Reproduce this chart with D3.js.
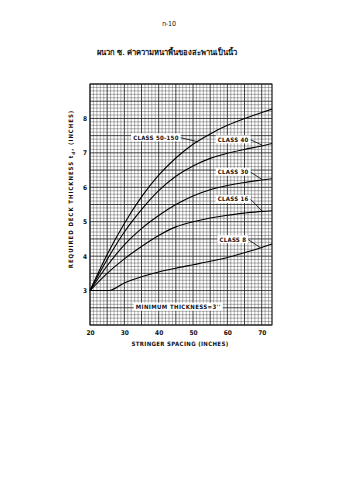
<!DOCTYPE html>
<html>
<head>
<meta charset="utf-8">
<script src="https://cdn.jsdelivr.net/npm/d3@7"></script>
<style>
  html, body { margin: 0; padding: 0; background: #fff; }
  svg { display: block; }
  text { font-family: "DejaVu Sans Condensed", "DejaVu Sans", sans-serif; fill: #111; }
</style>
</head>
<body>
<script>
// ---- data ----
const pageNumber = "ก-10";
const title = "ผนวก ซ. ค่าความหนาพื้นของสะพานเป็นนิ้ว";
const xLabel = "STRINGER SPACING (INCHES)";
const yLabel = "REQUIRED DECK THICKNESS  t";
const xTicks = [20, 30, 40, 50, 60, 70];
const yTicks = [3, 4, 5, 6, 7, 8];
const spacing = [20, 25, 30, 35, 40, 45, 50, 55, 60, 65, 70, 73];
const class50_150 = [3.0, 4.05, 4.95, 5.72, 6.35, 6.85, 7.25, 7.55, 7.8, 8.0, 8.17, 8.27];
const class40     = [3.0, 3.9, 4.7, 5.35, 5.9, 6.32, 6.62, 6.84, 6.99, 7.1, 7.2, 7.27];
const class30     = [3.0, 3.72, 4.33, 4.8, 5.18, 5.5, 5.75, 5.93, 6.05, 6.14, 6.21, 6.25];
const class16     = [3.0, 3.5, 3.92, 4.28, 4.6, 4.85, 5.0, 5.11, 5.19, 5.25, 5.3, 5.32];
const class8Spacing = [20, 25.5, 30, 35, 40, 45, 50, 55, 60, 65, 70, 73];
const class8        = [3.0, 3.0, 3.22, 3.4, 3.54, 3.65, 3.75, 3.85, 3.96, 4.1, 4.25, 4.35];
const seriesNames = ["CLASS 50-150", "CLASS 40", "CLASS 30", "CLASS 16", "CLASS 8"];
const minLabel = "MINIMUM THICKNESS=3''";

const W = 339, H = 480;
const svg = d3.select("body").append("svg").attr("width", W).attr("height", H);

const x = d3.scaleLinear().domain([20, 73]).range([90, 272]);
const y = d3.scaleLinear().domain([2, 9]).range([325, 84]);

// titles
svg.append("text").attr("x", 169).attr("y", 26).attr("text-anchor", "middle")
  .style("font-size", "7px").text(pageNumber);
svg.append("text").attr("x", 167).attr("y", 55).attr("text-anchor", "middle")
  .style("font-size", "7.6px").style("font-weight", "bold")
  .style("font-family", "'Noto Sans', 'DejaVu Sans', sans-serif")
  .text(title);

// grid
const g = svg.append("g");
const xMinor = d3.range(20, 73.01, 1);
const yMinor = d3.range(20, 90.01, 1).map(v => v / 10);
g.selectAll("line.vx").data(xMinor).join("line")
  .attr("x1", d => x(d)).attr("x2", d => x(d))
  .attr("y1", y(2)).attr("y2", y(9))
  .attr("stroke", "#222")
  .attr("stroke-opacity", d => d % 5 === 0 ? 0.95 : 0.6)
  .attr("stroke-width", d => d % 5 === 0 ? 0.9 : 0.6);
g.selectAll("line.hy").data(yMinor).join("line")
  .attr("x1", x(20)).attr("x2", x(73))
  .attr("y1", d => y(d)).attr("y2", d => y(d))
  .attr("stroke", "#222")
  .attr("stroke-opacity", d => Math.round(d * 10) % 5 === 0 ? 0.95 : 0.6)
  .attr("stroke-width", d => Math.round(d * 10) % 5 === 0 ? 0.9 : 0.6);
g.append("rect").attr("x", x(20)).attr("y", y(9))
  .attr("width", x(73) - x(20)).attr("height", y(2) - y(9))
  .attr("fill", "none").attr("stroke", "#111").attr("stroke-width", 1);

// ticks
svg.append("g").attr("transform", `translate(0,${y(2)})`)
  .call(d3.axisBottom(x).tickValues(xTicks).tickFormat(d3.format("d")).tickSize(0).tickPadding(5))
  .call(a => a.select(".domain").remove())
  .selectAll("text").style("font-size", "6.5px").style("font-weight", "bold")
  .style("font-family", "'DejaVu Sans Condensed', sans-serif");
svg.append("g").attr("transform", `translate(${x(20) - 3},0)`)
  .call(d3.axisLeft(y).tickValues(yTicks).tickFormat(d3.format("d")).tickSize(0).tickPadding(0))
  .call(a => a.select(".domain").remove())
  .selectAll("text").style("font-size", "6.5px").style("font-weight", "bold")
  .style("font-family", "'DejaVu Sans Condensed', sans-serif");

// axis titles
svg.append("text").attr("x", 180).attr("y", 346).attr("text-anchor", "middle")
  .style("font-size", "6px").style("font-weight", "bold").style("letter-spacing", "0.35px")
  .text(xLabel);
const yl = svg.append("text").attr("transform", "translate(73,189) rotate(-90)")
  .attr("text-anchor", "middle")
  .style("font-size", "6px").style("font-weight", "bold").style("letter-spacing", "0.95px");
yl.append("tspan").text(yLabel);
yl.append("tspan").attr("dy", 1.5).style("font-size", "4.5px").text("d");
yl.append("tspan").attr("dy", -1.5).text(", (INCHES)");

// curves
const line = d3.line().x(d => x(d[0])).y(d => y(d[1])).curve(d3.curveMonotoneX);
const series = [class50_150, class40, class30, class16].map(vals => spacing.map((s, i) => [s, vals[i]]));
series.push(class8Spacing.map((s, i) => [s, class8[i]]));
svg.append("g").selectAll("path").data(series).join("path")
  .attr("d", line).attr("fill", "none").attr("stroke", "#000").attr("stroke-width", 1.1);

// labels with leaders
const labels = [
  { name: seriesNames[0], lx: 39.2, ly: 7.44, ax: 51.5, ay: 7.32 },
  { name: seriesNames[1], lx: 61.7, ly: 7.38, ax: 70.2, ay: 7.22 },
  { name: seriesNames[2], lx: 61.7, ly: 6.44, ax: 70.2, ay: 6.22 },
  { name: seriesNames[3], lx: 61.7, ly: 5.65, ax: 70.2, ay: 5.3 },
  { name: seriesNames[4], lx: 61.6, ly: 4.48, ax: 69.6, ay: 4.25 }
];
const lg = svg.append("g");
labels.forEach(l => {
  const t = lg.append("text").attr("x", x(l.lx)).attr("y", y(l.ly)).attr("dy", "0.35em")
    .attr("text-anchor", "middle")
    .style("font-size", "6px").style("font-weight", "bold").style("letter-spacing", "0.3px")
    .text(l.name);
  const bb = t.node().getBBox();
  lg.insert("rect", () => t.node()).attr("x", bb.x - 2).attr("y", bb.y - 0.5)
    .attr("width", bb.width + 4).attr("height", bb.height + 1).attr("fill", "#fff");
  lg.append("path")
    .attr("d", `M${bb.x + bb.width + 2},${y(l.ly)} L${x(l.ax)},${y(l.ay)}`)
    .attr("stroke", "#000").attr("stroke-width", 0.8).attr("fill", "none");
});
const mt = lg.append("text").attr("x", x(45.7)).attr("y", y(2.52)).attr("dy", "0.35em")
  .attr("text-anchor", "middle")
  .style("font-size", "6px").style("font-weight", "bold").style("letter-spacing", "0.4px")
  .text(minLabel);
const mb = mt.node().getBBox();
lg.insert("rect", () => mt.node()).attr("x", mb.x - 2).attr("y", mb.y - 0.5)
  .attr("width", mb.width + 4).attr("height", mb.height + 1).attr("fill", "#fff");
</script>
</body>
</html>
